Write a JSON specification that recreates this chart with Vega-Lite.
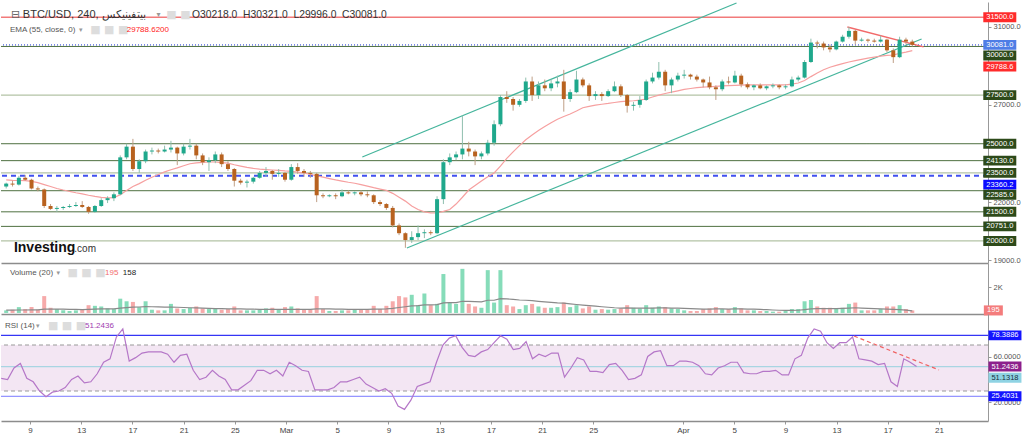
{
"$schema":"https://vega.github.io/schema/vega-lite/v6.json",
"background":"#ffffff",
"padding":{"left":0,"top":2,"right":0,"bottom":0},
"spacing":0,
"bounds":"flush",
"config":{"view":{"stroke":null},"font":"Liberation Sans","axis":{"labelFont":"Liberation Sans","labelFontSize":7.5,"labelColor":"#555555","tickColor":"#999999","domainColor":"#999999","grid":false,"tickSize":3,"labelPadding":2}},
"resolve":{"scale":{"x":"independent","y":"independent","color":"independent","stroke":"independent","strokeDash":"independent","strokeWidth":"independent"}},
"datasets":{
"k":[
{"t":"2023-02-06T18:00Z","o":22800,"h":23000,"l":22700,"c":22950,"v":200,"m":220,"r":41,"e":23140},
{"t":"2023-02-07T06:00Z","o":22950,"h":23100,"l":22800,"c":22900,"v":250,"m":220,"r":40,"e":23120},
{"t":"2023-02-07T18:00Z","o":22900,"h":23350,"l":22850,"c":23250,"v":450,"m":230,"r":50,"e":23110},
{"t":"2023-02-08T06:00Z","o":23250,"h":23400,"l":23100,"c":23150,"v":300,"m":230,"r":54,"e":23100},
{"t":"2023-02-08T18:00Z","o":23150,"h":23200,"l":22650,"c":22700,"v":450,"m":240,"r":41,"e":23060},
{"t":"2023-02-09T06:00Z","o":22700,"h":22800,"l":22550,"c":22650,"v":250,"m":240,"r":38,"e":23000},
{"t":"2023-02-09T18:00Z","o":22650,"h":22700,"l":21700,"c":21800,"v":1300,"m":290,"r":30,"e":22900},
{"t":"2023-02-10T06:00Z","o":21800,"h":21900,"l":21600,"c":21650,"v":400,"m":300,"r":25,"e":22800},
{"t":"2023-02-10T18:00Z","o":21650,"h":21800,"l":21500,"c":21700,"v":300,"m":300,"r":29,"e":22700},
{"t":"2023-02-11T06:00Z","o":21700,"h":21800,"l":21600,"c":21750,"v":200,"m":290,"r":30,"e":22620},
{"t":"2023-02-11T18:00Z","o":21750,"h":21900,"l":21700,"c":21800,"v":150,"m":280,"r":33,"e":22550},
{"t":"2023-02-12T06:00Z","o":21800,"h":22000,"l":21750,"c":21850,"v":200,"m":270,"r":40,"e":22480},
{"t":"2023-02-12T18:00Z","o":21850,"h":22050,"l":21700,"c":21750,"v":250,"m":260,"r":43,"e":22420},
{"t":"2023-02-13T06:00Z","o":21750,"h":21800,"l":21400,"c":21500,"v":600,"m":280,"r":37,"e":22350},
{"t":"2023-02-13T18:00Z","o":21500,"h":21850,"l":21450,"c":21800,"v":550,"m":300,"r":38,"e":22290},
{"t":"2023-02-14T06:00Z","o":21800,"h":22200,"l":21750,"c":22100,"v":500,"m":320,"r":45,"e":22240},
{"t":"2023-02-14T18:00Z","o":22100,"h":22300,"l":21950,"c":22200,"v":350,"m":320,"r":55,"e":22220},
{"t":"2023-02-15T06:00Z","o":22200,"h":22500,"l":22050,"c":22400,"v":300,"m":320,"r":58,"e":22230},
{"t":"2023-02-15T18:00Z","o":22400,"h":24400,"l":22350,"c":24300,"v":1100,"m":370,"r":77,"e":22380},
{"t":"2023-02-16T06:00Z","o":24300,"h":25000,"l":24200,"c":24850,"v":900,"m":410,"r":84,"e":22600},
{"t":"2023-02-16T18:00Z","o":24850,"h":25250,"l":23600,"c":23700,"v":850,"m":450,"r":56,"e":22800},
{"t":"2023-02-17T06:00Z","o":23700,"h":24200,"l":23500,"c":24100,"v":450,"m":460,"r":59,"e":22950},
{"t":"2023-02-17T18:00Z","o":24100,"h":24700,"l":24000,"c":24600,"v":900,"m":490,"r":63,"e":23120},
{"t":"2023-02-18T06:00Z","o":24600,"h":24800,"l":24450,"c":24650,"v":250,"m":480,"r":64,"e":23280},
{"t":"2023-02-18T18:00Z","o":24650,"h":24750,"l":24500,"c":24600,"v":200,"m":470,"r":64,"e":23420},
{"t":"2023-02-19T06:00Z","o":24600,"h":24900,"l":24550,"c":24700,"v":200,"m":450,"r":64,"e":23550},
{"t":"2023-02-19T18:00Z","o":24700,"h":25150,"l":24550,"c":24800,"v":700,"m":460,"r":62,"e":23660},
{"t":"2023-02-20T06:00Z","o":24800,"h":24850,"l":23900,"c":24500,"v":350,"m":440,"r":55,"e":23760},
{"t":"2023-02-20T18:00Z","o":24500,"h":25000,"l":24400,"c":24850,"v":300,"m":420,"r":61,"e":23870},
{"t":"2023-02-21T06:00Z","o":24850,"h":25250,"l":24700,"c":24900,"v":400,"m":400,"r":62,"e":23970},
{"t":"2023-02-21T18:00Z","o":24900,"h":25000,"l":24200,"c":24400,"v":500,"m":390,"r":48,"e":24020},
{"t":"2023-02-22T06:00Z","o":24400,"h":24500,"l":23900,"c":24050,"v":350,"m":370,"r":40,"e":24040},
{"t":"2023-02-22T18:00Z","o":24050,"h":24300,"l":23600,"c":24150,"v":300,"m":350,"r":42,"e":24060},
{"t":"2023-02-23T06:00Z","o":24150,"h":24600,"l":24000,"c":24450,"v":350,"m":340,"r":48,"e":24060},
{"t":"2023-02-23T18:00Z","o":24450,"h":24550,"l":23800,"c":23950,"v":250,"m":330,"r":43,"e":24030},
{"t":"2023-02-24T06:00Z","o":23950,"h":24100,"l":23600,"c":23700,"v":300,"m":320,"r":40,"e":24000},
{"t":"2023-02-24T18:00Z","o":23700,"h":23750,"l":22800,"c":23100,"v":500,"m":320,"r":31,"e":23920},
{"t":"2023-02-25T06:00Z","o":23100,"h":23200,"l":22900,"c":23000,"v":200,"m":310,"r":31,"e":23850},
{"t":"2023-02-25T18:00Z","o":23000,"h":23150,"l":22750,"c":23050,"v":200,"m":300,"r":35,"e":23780},
{"t":"2023-02-26T06:00Z","o":23050,"h":23300,"l":22950,"c":23250,"v":200,"m":290,"r":39,"e":23730},
{"t":"2023-02-26T18:00Z","o":23250,"h":23600,"l":23200,"c":23500,"v":250,"m":280,"r":48,"e":23690},
{"t":"2023-02-27T06:00Z","o":23500,"h":23800,"l":23300,"c":23600,"v":350,"m":280,"r":48,"e":23670},
{"t":"2023-02-27T18:00Z","o":23600,"h":23650,"l":23150,"c":23450,"v":400,"m":280,"r":45,"e":23650},
{"t":"2023-02-28T06:00Z","o":23450,"h":23700,"l":23300,"c":23500,"v":250,"m":270,"r":48,"e":23630},
{"t":"2023-02-28T18:00Z","o":23500,"h":23550,"l":23050,"c":23150,"v":450,"m":270,"r":43,"e":23600},
{"t":"2023-03-01T06:00Z","o":23150,"h":23950,"l":23100,"c":23800,"v":500,"m":280,"r":55,"e":23580},
{"t":"2023-03-01T18:00Z","o":23800,"h":24000,"l":23450,"c":23600,"v":350,"m":280,"r":52,"e":23540},
{"t":"2023-03-02T06:00Z","o":23600,"h":23700,"l":23300,"c":23500,"v":250,"m":280,"r":48,"e":23490},
{"t":"2023-03-02T18:00Z","o":23500,"h":23600,"l":23250,"c":23450,"v":250,"m":270,"r":47,"e":23430},
{"t":"2023-03-03T06:00Z","o":23450,"h":23500,"l":22000,"c":22350,"v":1300,"m":320,"r":31,"e":23350},
{"t":"2023-03-03T18:00Z","o":22350,"h":22450,"l":22200,"c":22300,"v":300,"m":320,"r":31,"e":23280},
{"t":"2023-03-04T06:00Z","o":22300,"h":22400,"l":22250,"c":22350,"v":150,"m":310,"r":31,"e":23210},
{"t":"2023-03-04T18:00Z","o":22350,"h":22450,"l":22150,"c":22300,"v":150,"m":300,"r":33,"e":23140},
{"t":"2023-03-05T06:00Z","o":22300,"h":22650,"l":22250,"c":22500,"v":200,"m":290,"r":38,"e":23080},
{"t":"2023-03-05T18:00Z","o":22500,"h":22600,"l":22400,"c":22450,"v":200,"m":280,"r":38,"e":23020},
{"t":"2023-03-06T06:00Z","o":22450,"h":22550,"l":22350,"c":22500,"v":250,"m":280,"r":40,"e":22970},
{"t":"2023-03-06T18:00Z","o":22500,"h":22600,"l":22300,"c":22400,"v":300,"m":280,"r":42,"e":22900},
{"t":"2023-03-07T06:00Z","o":22400,"h":22550,"l":22250,"c":22350,"v":250,"m":280,"r":36,"e":22820},
{"t":"2023-03-07T18:00Z","o":22350,"h":22400,"l":21900,"c":22000,"v":550,"m":300,"r":33,"e":22740},
{"t":"2023-03-08T06:00Z","o":22000,"h":22100,"l":21800,"c":21900,"v":300,"m":300,"r":30,"e":22670},
{"t":"2023-03-08T18:00Z","o":21900,"h":21950,"l":21600,"c":21700,"v":550,"m":310,"r":32,"e":22600},
{"t":"2023-03-09T06:00Z","o":21700,"h":21800,"l":20700,"c":20800,"v":900,"m":350,"r":28,"e":22450},
{"t":"2023-03-09T18:00Z","o":20800,"h":20900,"l":20300,"c":20400,"v":1300,"m":420,"r":17,"e":22250},
{"t":"2023-03-10T06:00Z","o":20400,"h":20450,"l":19650,"c":20050,"v":1200,"m":480,"r":14,"e":22050},
{"t":"2023-03-10T18:00Z","o":20050,"h":20500,"l":19900,"c":20200,"v":1400,"m":550,"r":22,"e":21800},
{"t":"2023-03-11T06:00Z","o":20200,"h":20800,"l":20050,"c":20400,"v":600,"m":560,"r":34,"e":21620},
{"t":"2023-03-11T18:00Z","o":20400,"h":20600,"l":20150,"c":20450,"v":1500,"m":620,"r":36,"e":21500},
{"t":"2023-03-12T06:00Z","o":20450,"h":20550,"l":20300,"c":20400,"v":600,"m":630,"r":38,"e":21450},
{"t":"2023-03-12T18:00Z","o":20400,"h":22300,"l":20350,"c":22150,"v":700,"m":640,"r":55,"e":21440},
{"t":"2023-03-13T06:00Z","o":22150,"h":24200,"l":21900,"c":24050,"v":3000,"m":780,"r":70,"e":21520},
{"t":"2023-03-13T18:00Z","o":24050,"h":24500,"l":23900,"c":24300,"v":800,"m":790,"r":76,"e":21620},
{"t":"2023-03-14T06:00Z","o":24300,"h":24600,"l":24150,"c":24450,"v":700,"m":790,"r":78,"e":21900},
{"t":"2023-03-14T18:00Z","o":24450,"h":26450,"l":24200,"c":24750,"v":3400,"m":900,"r":68,"e":22250},
{"t":"2023-03-15T06:00Z","o":24750,"h":25100,"l":24350,"c":24600,"v":700,"m":900,"r":61,"e":22620},
{"t":"2023-03-15T18:00Z","o":24600,"h":24700,"l":23900,"c":24350,"v":500,"m":880,"r":60,"e":22850},
{"t":"2023-03-16T06:00Z","o":24350,"h":24600,"l":24200,"c":24500,"v":400,"m":860,"r":64,"e":23080},
{"t":"2023-03-16T18:00Z","o":24500,"h":25200,"l":24400,"c":25050,"v":3300,"m":980,"r":66,"e":23300},
{"t":"2023-03-17T06:00Z","o":25050,"h":26200,"l":24900,"c":26000,"v":800,"m":980,"r":72,"e":23500},
{"t":"2023-03-17T18:00Z","o":26000,"h":27500,"l":25900,"c":27400,"v":3300,"m":1100,"r":78,"e":23850},
{"t":"2023-03-18T06:00Z","o":27400,"h":27700,"l":27100,"c":27300,"v":600,"m":1080,"r":75,"e":24250},
{"t":"2023-03-18T18:00Z","o":27300,"h":27400,"l":26700,"c":27000,"v":500,"m":1050,"r":66,"e":24580},
{"t":"2023-03-19T06:00Z","o":27000,"h":27300,"l":26900,"c":27200,"v":300,"m":1000,"r":67,"e":24900},
{"t":"2023-03-19T18:00Z","o":27200,"h":28400,"l":27100,"c":28200,"v":600,"m":980,"r":73,"e":25200},
{"t":"2023-03-20T06:00Z","o":28200,"h":28450,"l":27200,"c":27500,"v":700,"m":950,"r":58,"e":25450},
{"t":"2023-03-20T18:00Z","o":27500,"h":28200,"l":27300,"c":28000,"v":500,"m":900,"r":62,"e":25680},
{"t":"2023-03-21T06:00Z","o":28000,"h":28300,"l":27700,"c":27850,"v":400,"m":860,"r":60,"e":25880},
{"t":"2023-03-21T18:00Z","o":27850,"h":28300,"l":27700,"c":28100,"v":400,"m":820,"r":63,"e":26080},
{"t":"2023-03-22T06:00Z","o":28100,"h":28500,"l":27900,"c":28200,"v":450,"m":780,"r":63,"e":26260},
{"t":"2023-03-22T18:00Z","o":28200,"h":28800,"l":26650,"c":27300,"v":800,"m":760,"r":42,"e":26400},
{"t":"2023-03-23T06:00Z","o":27300,"h":27800,"l":27150,"c":27650,"v":450,"m":700,"r":50,"e":26530},
{"t":"2023-03-23T18:00Z","o":27650,"h":28750,"l":27600,"c":28300,"v":600,"m":650,"r":59,"e":26680},
{"t":"2023-03-24T06:00Z","o":28300,"h":28400,"l":27900,"c":28000,"v":350,"m":600,"r":57,"e":26850},
{"t":"2023-03-24T18:00Z","o":28000,"h":28100,"l":27200,"c":27450,"v":500,"m":560,"r":47,"e":26920},
{"t":"2023-03-25T06:00Z","o":27450,"h":27700,"l":27250,"c":27550,"v":250,"m":520,"r":47,"e":26980},
{"t":"2023-03-25T18:00Z","o":27550,"h":27650,"l":27200,"c":27450,"v":300,"m":480,"r":46,"e":27030},
{"t":"2023-03-26T06:00Z","o":27450,"h":27800,"l":27400,"c":27700,"v":250,"m":440,"r":53,"e":27070},
{"t":"2023-03-26T18:00Z","o":27700,"h":28200,"l":27650,"c":27950,"v":300,"m":400,"r":54,"e":27120},
{"t":"2023-03-27T06:00Z","o":27950,"h":28050,"l":27400,"c":27500,"v":350,"m":380,"r":48,"e":27160},
{"t":"2023-03-27T18:00Z","o":27500,"h":27550,"l":26600,"c":26950,"v":600,"m":390,"r":40,"e":27190},
{"t":"2023-03-28T06:00Z","o":26950,"h":27150,"l":26700,"c":27000,"v":400,"m":380,"r":41,"e":27210},
{"t":"2023-03-28T18:00Z","o":27000,"h":27450,"l":26850,"c":27250,"v":350,"m":370,"r":44,"e":27240},
{"t":"2023-03-29T06:00Z","o":27250,"h":28300,"l":27200,"c":28200,"v":600,"m":380,"r":60,"e":27300},
{"t":"2023-03-29T18:00Z","o":28200,"h":28650,"l":28100,"c":28400,"v":400,"m":380,"r":64,"e":27400},
{"t":"2023-03-30T06:00Z","o":28400,"h":29200,"l":28300,"c":28700,"v":500,"m":390,"r":65,"e":27500},
{"t":"2023-03-30T18:00Z","o":28700,"h":28800,"l":27700,"c":28000,"v":450,"m":390,"r":52,"e":27580},
{"t":"2023-03-31T06:00Z","o":28000,"h":28400,"l":27600,"c":28300,"v":350,"m":380,"r":52,"e":27650},
{"t":"2023-03-31T18:00Z","o":28300,"h":28650,"l":28200,"c":28500,"v":300,"m":370,"r":56,"e":27720},
{"t":"2023-04-01T06:00Z","o":28500,"h":28800,"l":28350,"c":28550,"v":200,"m":350,"r":56,"e":27790},
{"t":"2023-04-01T18:00Z","o":28550,"h":28600,"l":28300,"c":28450,"v":150,"m":330,"r":55,"e":27840},
{"t":"2023-04-02T06:00Z","o":28450,"h":28550,"l":28200,"c":28300,"v":150,"m":310,"r":52,"e":27880},
{"t":"2023-04-02T18:00Z","o":28300,"h":28350,"l":27900,"c":28150,"v":300,"m":300,"r":45,"e":27910},
{"t":"2023-04-03T06:00Z","o":28150,"h":28450,"l":27800,"c":27900,"v":350,"m":300,"r":44,"e":27930},
{"t":"2023-04-03T18:00Z","o":27900,"h":28000,"l":27250,"c":27800,"v":450,"m":310,"r":50,"e":27950},
{"t":"2023-04-04T06:00Z","o":27800,"h":28300,"l":27700,"c":28200,"v":300,"m":310,"r":52,"e":27970},
{"t":"2023-04-04T18:00Z","o":28200,"h":28450,"l":28050,"c":28150,"v":300,"m":300,"r":55,"e":27990},
{"t":"2023-04-05T06:00Z","o":28150,"h":28750,"l":28100,"c":28500,"v":450,"m":310,"r":55,"e":28000},
{"t":"2023-04-05T18:00Z","o":28500,"h":28600,"l":27900,"c":28050,"v":350,"m":310,"r":46,"e":28010},
{"t":"2023-04-06T06:00Z","o":28050,"h":28150,"l":27800,"c":27900,"v":200,"m":300,"r":45,"e":28020},
{"t":"2023-04-06T18:00Z","o":27900,"h":28050,"l":27750,"c":28000,"v":200,"m":290,"r":45,"e":28020},
{"t":"2023-04-07T06:00Z","o":28000,"h":28100,"l":27800,"c":27850,"v":150,"m":270,"r":47,"e":28020},
{"t":"2023-04-07T18:00Z","o":27850,"h":28000,"l":27750,"c":27950,"v":150,"m":250,"r":47,"e":28020},
{"t":"2023-04-08T06:00Z","o":27950,"h":28100,"l":27850,"c":28000,"v":100,"m":230,"r":48,"e":28020},
{"t":"2023-04-08T18:00Z","o":28000,"h":28050,"l":27800,"c":27900,"v":100,"m":210,"r":44,"e":28020},
{"t":"2023-04-09T06:00Z","o":27900,"h":28050,"l":27800,"c":27950,"v":150,"m":200,"r":44,"e":28030},
{"t":"2023-04-09T18:00Z","o":27950,"h":28450,"l":27900,"c":28300,"v":300,"m":200,"r":58,"e":28060},
{"t":"2023-04-10T06:00Z","o":28300,"h":28500,"l":28200,"c":28400,"v":300,"m":210,"r":61,"e":28120},
{"t":"2023-04-10T18:00Z","o":28400,"h":29300,"l":28350,"c":29200,"v":900,"m":260,"r":76,"e":28250},
{"t":"2023-04-11T06:00Z","o":29200,"h":30400,"l":29150,"c":30200,"v":1000,"m":310,"r":84,"e":28450},
{"t":"2023-04-11T18:00Z","o":30200,"h":30300,"l":29900,"c":30150,"v":500,"m":330,"r":82,"e":28640},
{"t":"2023-04-12T06:00Z","o":30150,"h":30250,"l":29800,"c":29950,"v":400,"m":340,"r":72,"e":28800},
{"t":"2023-04-12T18:00Z","o":29950,"h":30100,"l":29700,"c":29850,"v":400,"m":340,"r":67,"e":28930},
{"t":"2023-04-13T06:00Z","o":29850,"h":30300,"l":29800,"c":30250,"v":350,"m":340,"r":72,"e":29030},
{"t":"2023-04-13T18:00Z","o":30250,"h":30600,"l":30200,"c":30500,"v":400,"m":350,"r":72,"e":29120},
{"t":"2023-04-14T06:00Z","o":30500,"h":31000,"l":30400,"c":30800,"v":700,"m":370,"r":77,"e":29200},
{"t":"2023-04-14T18:00Z","o":30800,"h":30850,"l":30100,"c":30300,"v":800,"m":400,"r":58,"e":29270},
{"t":"2023-04-15T06:00Z","o":30300,"h":30450,"l":30250,"c":30350,"v":200,"m":380,"r":57,"e":29340},
{"t":"2023-04-15T18:00Z","o":30350,"h":30400,"l":30200,"c":30300,"v":200,"m":360,"r":56,"e":29400},
{"t":"2023-04-16T06:00Z","o":30300,"h":30400,"l":30200,"c":30250,"v":200,"m":330,"r":53,"e":29450},
{"t":"2023-04-16T18:00Z","o":30250,"h":30550,"l":30200,"c":30350,"v":300,"m":310,"r":54,"e":29500},
{"t":"2023-04-17T06:00Z","o":30350,"h":30400,"l":29700,"c":29800,"v":500,"m":300,"r":38,"e":29540},
{"t":"2023-04-17T18:00Z","o":29800,"h":29900,"l":29150,"c":29450,"v":500,"m":280,"r":34,"e":29560},
{"t":"2023-04-18T06:00Z","o":29450,"h":30500,"l":29400,"c":30350,"v":600,"m":260,"r":58,"e":29640},
{"t":"2023-04-18T18:00Z","o":30350,"h":30450,"l":30100,"c":30250,"v":300,"m":220,"r":55,"e":29710},
{"t":"2023-04-19T06:00Z","o":30250,"h":30350,"l":29996,"c":30081,"v":195,"m":158,"r":51.2436,"e":29788.6}
],
"lv":[
{"p":31500,"kind":"red"},{"p":30081,"kind":"cur"},{"p":30000,"kind":"dk"},{"p":27500,"kind":"lt"},{"p":25000,"kind":"dk"},{"p":24130,"kind":"dk"},{"p":23500,"kind":"lt"},{"p":23360.2,"kind":"ref"},{"p":22585,"kind":"dk"},{"p":21500,"kind":"dk"},{"p":20751,"kind":"dk"},{"p":20000,"kind":"lt"}
],
"pt":[
{"v":31500,"lab":"31500.0","kind":"red"},{"v":30081,"lab":"30081.0","kind":"cur"},{"v":27500,"lab":"27500.0","kind":"lvl"},{"v":25000,"lab":"25000.0","kind":"lvl"},{"v":24130,"lab":"24130.0","kind":"lvl"},{"v":23500,"lab":"23500.0","kind":"lvl"},{"v":21500,"lab":"21500.0","kind":"lvl"},{"v":20751,"lab":"20751.0","kind":"lvl"},{"v":20000,"lab":"20000.0","kind":"lvl"}
],
"rt":[
{"v":78.3886,"lab":"78.3886","kind":"b"},{"v":51.2436,"lab":"51.2436","kind":"p"},{"v":25.4031,"lab":"25.4031","kind":"b"}
],
"rl":[
{"r":78.3886,"kind":"hi"},{"r":70,"kind":"ob"},{"r":51.1318,"kind":"mid"},{"r":30,"kind":"os"},{"r":25.4031,"kind":"lo"}
]
},
"vconcat":[
{
"width":987,"height":261,
"layer":[
{"data":{"name":"lv"},"mark":{"type":"rule"},"encoding":{
"y":{"field":"p","type":"quantitative","scale":{"domain":[18869,32285],"nice":false,"zero":false},"axis":{"orient":"right","values":[19000,21000,22000,26000,27000,28000,31000,32000],"format":".1f","title":null}},
"stroke":{"field":"kind","type":"nominal","scale":{"domain":["dk","lt","red","cur","ref"],"range":["#4f7040","#b4c4a6","#f27a7a","#7b8be6","#4050f0"]},"legend":null},
"strokeWidth":{"field":"kind","type":"nominal","scale":{"domain":["dk","lt","red","cur","ref"],"range":[1,2,1,1,1]},"legend":null},
"strokeDash":{"field":"kind","type":"nominal","scale":{"domain":["dk","lt","red","cur","ref"],"range":[[1,0],[1,0],[1,0],[1,2],[5,4]]},"legend":null}}},
{"data":{"values":[{"t1":"2023-03-06T20:24Z","p1":24318,"t2":"2023-04-05T09:06Z","p2":32236},{"t1":"2023-03-10T08:50Z","p1":19640,"t2":"2023-04-19T23:35Z","p2":30385}],"format":{"parse":{"t1":"date","t2":"date"}}},
"mark":{"type":"rule","clip":true,"color":"#45b59c","strokeWidth":1.2},
"encoding":{"x":{"field":"t1","type":"temporal","scale":{"type":"utc","domain":[{"year":2023,"month":"feb","date":6,"hours":17,"minutes":38,"utc":true},{"year":2023,"month":"apr","date":24,"hours":19,"minutes":54,"utc":true}]},"axis":{"labels":false,"ticks":false,"domain":true,"grid":false,"title":null,"domainColor":"#8c8c8c","domainWidth":1.5}},"x2":{"field":"t2"},"y":{"field":"p1","type":"quantitative"},"y2":{"field":"p2"}}},
{"data":{"values":[{"t1":"2023-04-14T03:00Z","p1":31000,"t2":"2023-04-20T03:20Z","p2":29974}],"format":{"parse":{"t1":"date","t2":"date"}}},
"mark":{"type":"rule","clip":true,"color":"#f26a6a","strokeWidth":1.3},
"encoding":{"x":{"field":"t1","type":"temporal"},"x2":{"field":"t2"},"y":{"field":"p1","type":"quantitative"},"y2":{"field":"p2"}}},
{"data":{"name":"k"},"mark":{"type":"line","color":"#f6a0a0","strokeWidth":1.2,"clip":true},"encoding":{"x":{"field":"t","type":"temporal"},"y":{"field":"e","type":"quantitative"}}},
{"data":{"name":"k"},"mark":{"type":"rule","clip":true,"strokeWidth":1},"encoding":{"x":{"field":"t","type":"temporal"},"y":{"field":"l","type":"quantitative"},"y2":{"field":"h"},"color":{"condition":{"test":"datum.c >= datum.o","value":"#8fbfae"},"value":"#bf9f86"}}},
{"data":{"name":"k"},"mark":{"type":"bar","size":4,"clip":true},"encoding":{"x":{"field":"t","type":"temporal"},"y":{"field":"o","type":"quantitative"},"y2":{"field":"c"},"color":{"condition":{"test":"datum.c >= datum.o","value":"#1fa88c"},"value":"#b8621f"}}},
{"data":{"name":"pt"},"mark":{"type":"point","filled":true,"opacity":1,"shape":"M-1,-0.3H1V0.3H-1Z","size":1089},"encoding":{"x":{"datum":{"year":2023,"month":"apr","date":26,"hours":3,"minutes":42,"utc":true},"type":"temporal"},"y":{"field":"v","type":"quantitative"},"color":{"field":"kind","type":"nominal","scale":{"domain":["red","cur","lvl","ref"],"range":["#ff2b2b","#4f7de6","#2d4a1a","#0a0aff"]},"legend":null}}},
{"data":{"name":"pt"},"mark":{"type":"text","color":"#ffffff","fontSize":7.5,"align":"center","baseline":"middle"},"encoding":{"x":{"datum":{"year":2023,"month":"apr","date":26,"hours":3,"minutes":42,"utc":true},"type":"temporal"},"y":{"field":"v","type":"quantitative"},"text":{"field":"lab"}}},
{"data":{"values":[{"v":30000,"lab":"30000.0","kind":"lvl"},{"v":23360.2,"lab":"23360.2","kind":"ref"}]},"mark":{"type":"point","filled":true,"opacity":1,"shape":"M-1,-0.3H1V0.3H-1Z","size":1089,"yOffset":9},"encoding":{"x":{"datum":{"year":2023,"month":"apr","date":26,"hours":3,"minutes":42,"utc":true},"type":"temporal"},"y":{"field":"v","type":"quantitative"},"color":{"field":"kind","type":"nominal","legend":null}}},
{"data":{"values":[{"v":30000,"lab":"30000.0"},{"v":23360.2,"lab":"23360.2"}]},"mark":{"type":"text","color":"#ffffff","fontSize":7.5,"align":"center","baseline":"middle","yOffset":9},"encoding":{"x":{"datum":{"year":2023,"month":"apr","date":26,"hours":3,"minutes":42,"utc":true},"type":"temporal"},"y":{"field":"v","type":"quantitative"},"text":{"field":"lab"}}},
{"data":{"values":[{"v":29788.6,"lab":"29788.6","kind":"red"}]},"mark":{"type":"point","filled":true,"opacity":1,"shape":"M-1,-0.3H1V0.3H-1Z","size":1089,"yOffset":16},"encoding":{"x":{"datum":{"year":2023,"month":"apr","date":26,"hours":3,"minutes":42,"utc":true},"type":"temporal"},"y":{"field":"v","type":"quantitative"},"color":{"field":"kind","type":"nominal","legend":null}}},
{"data":{"values":[{"v":29788.6,"lab":"29788.6"}]},"mark":{"type":"text","color":"#ffffff","fontSize":7.5,"align":"center","baseline":"middle","yOffset":16},"encoding":{"x":{"datum":{"year":2023,"month":"apr","date":26,"hours":3,"minutes":42,"utc":true},"type":"temporal"},"y":{"field":"v","type":"quantitative"},"text":{"field":"lab"}}},
{"data":{"values":[{"v":22585,"lab":"22585.0","kind":"lvl"}]},"mark":{"type":"point","filled":true,"opacity":1,"shape":"M-1,-0.3H1V0.3H-1Z","size":1089,"yOffset":4},"encoding":{"x":{"datum":{"year":2023,"month":"apr","date":26,"hours":3,"minutes":42,"utc":true},"type":"temporal"},"y":{"field":"v","type":"quantitative"},"color":{"field":"kind","type":"nominal","legend":null}}},
{"data":{"values":[{"v":22585,"lab":"22585.0"}]},"mark":{"type":"text","color":"#ffffff","fontSize":7.5,"align":"center","baseline":"middle","yOffset":4},"encoding":{"x":{"datum":{"year":2023,"month":"apr","date":26,"hours":3,"minutes":42,"utc":true},"type":"temporal"},"y":{"field":"v","type":"quantitative"},"text":{"field":"lab"}}},
{"data":{"values":[{}]},"mark":{"type":"text","text":"⊟","align":"left","baseline":"middle","fontSize":11,"color":"#666666","font":"DejaVu Sans"},"encoding":{"x":{"datum":{"year":2023,"month":"feb","date":7,"hours":3,"utc":true},"type":"temporal"},"y":{"datum":31619,"type":"quantitative"}}},
{"data":{"values":[{}]},"mark":{"type":"text","text":"BTC/USD, 240, بيتفينيكس","align":"left","baseline":"middle","fontSize":11,"color":"#333333"},"encoding":{"x":{"datum":{"year":2023,"month":"feb","date":8,"hours":1,"minutes":30,"utc":true},"type":"temporal"},"y":{"datum":31619,"type":"quantitative"}}},
{"data":{"values":[{}]},"mark":{"type":"text","text":"▾","align":"left","baseline":"middle","fontSize":8,"color":"#999999","font":"DejaVu Sans"},"encoding":{"x":{"datum":{"year":2023,"month":"feb","date":18,"hours":14,"minutes":36,"utc":true},"type":"temporal"},"y":{"datum":31619,"type":"quantitative"}}},
{"data":{"values":[{}]},"mark":{"type":"text","text":"■ ■","align":"left","baseline":"middle","fontSize":11,"color":"#dddddd","font":"DejaVu Sans"},"encoding":{"x":{"datum":{"year":2023,"month":"feb","date":19,"hours":9,"minutes":18,"utc":true},"type":"temporal"},"y":{"datum":31619,"type":"quantitative"}}},
{"data":{"values":[{}]},"mark":{"type":"text","text":"O30218.0\u00a0\u00a0H30321.0\u00a0\u00a0L29996.0\u00a0\u00a0C30081.0","align":"left","baseline":"middle","fontSize":10.3,"color":"#333333"},"encoding":{"x":{"datum":{"year":2023,"month":"feb","date":21,"hours":10,"minutes":6,"utc":true},"type":"temporal"},"y":{"datum":31619,"type":"quantitative"}}},
{"data":{"values":[{}]},"mark":{"type":"text","text":"EMA (55, close, 0)","align":"left","baseline":"middle","fontSize":8,"color":"#555555"},"encoding":{"x":{"datum":{"year":2023,"month":"feb","date":7,"hours":1,"minutes":6,"utc":true},"type":"temporal"},"y":{"datum":30848,"type":"quantitative"}}},
{"data":{"values":[{}]},"mark":{"type":"text","text":"▾","align":"left","baseline":"middle","fontSize":7,"color":"#999999","font":"DejaVu Sans"},"encoding":{"x":{"datum":{"year":2023,"month":"feb","date":12,"hours":12,"utc":true},"type":"temporal"},"y":{"datum":30848,"type":"quantitative"}}},
{"data":{"values":[{}]},"mark":{"type":"text","text":"■ ■ ■","align":"left","baseline":"middle","fontSize":11,"color":"#dddddd","font":"DejaVu Sans"},"encoding":{"x":{"datum":{"year":2023,"month":"feb","date":13,"hours":9,"utc":true},"type":"temporal"},"y":{"datum":30848,"type":"quantitative"}}},
{"data":{"values":[{}]},"mark":{"type":"text","text":"29788.6200","align":"left","baseline":"middle","fontSize":8,"color":"#ff2222"},"encoding":{"x":{"datum":{"year":2023,"month":"feb","date":16,"hours":6,"minutes":18,"utc":true},"type":"temporal"},"y":{"datum":30848,"type":"quantitative"}}},
{"data":{"values":[{}]},"mark":{"type":"text","text":"Investing","align":"left","baseline":"middle","fontSize":14,"fontWeight":"bold","color":"#111111"},"encoding":{"x":{"datum":{"year":2023,"month":"feb","date":7,"hours":8,"minutes":36,"utc":true},"type":"temporal"},"y":{"datum":19640,"type":"quantitative"}}},
{"data":{"values":[{}]},"mark":{"type":"text","text":".com","align":"left","baseline":"middle","fontSize":10,"color":"#333333"},"encoding":{"x":{"datum":{"year":2023,"month":"feb","date":12,"hours":3,"utc":true},"type":"temporal"},"y":{"datum":19610,"type":"quantitative"}}}
]
},
{
"width":987,"height":51,
"layer":[
{"data":{"name":"k"},"mark":{"type":"bar","size":4,"clip":true},"encoding":{"x":{"field":"t","type":"temporal","scale":{"type":"utc","domain":[{"year":2023,"month":"feb","date":6,"hours":17,"minutes":38,"utc":true},{"year":2023,"month":"apr","date":24,"hours":19,"minutes":54,"utc":true}]},"axis":{"labels":false,"ticks":false,"domain":true,"grid":false,"title":null,"domainColor":"#8c8c8c","domainWidth":1.5}},"y":{"field":"v","type":"quantitative","scale":{"domain":[-80,3850],"nice":false,"zero":false},"axis":{"orient":"right","values":[2000],"labelExpr":"'2K'","title":null}},"y2":{"datum":0},"color":{"condition":{"test":"datum.c >= datum.o","value":"#86dcb9"},"value":"#f6aaaa"}}},
{"data":{"name":"k"},"mark":{"type":"line","color":"#8a8a8a","strokeWidth":1.2},"encoding":{"x":{"field":"t","type":"temporal"},"y":{"field":"m","type":"quantitative"}}},
{"data":{"values":[{"v":195,"lab":"195"}]},"mark":{"type":"point","filled":true,"opacity":1,"shape":"M-1,-0.53H1V0.53H-1Z","size":361,"color":"#f47c7c"},"encoding":{"x":{"datum":{"year":2023,"month":"apr","date":25,"hours":15,"minutes":30,"utc":true},"type":"temporal"},"y":{"field":"v","type":"quantitative"}}},
{"data":{"values":[{"v":195,"lab":"195"}]},"mark":{"type":"text","color":"#ffffff","fontSize":7.5,"align":"center","baseline":"middle"},"encoding":{"x":{"datum":{"year":2023,"month":"apr","date":25,"hours":15,"minutes":30,"utc":true},"type":"temporal"},"y":{"field":"v","type":"quantitative"},"text":{"field":"lab"}}},
{"data":{"values":[{}]},"mark":{"type":"text","text":"Volume (20)","align":"left","baseline":"middle","fontSize":8,"color":"#555555"},"encoding":{"x":{"datum":{"year":2023,"month":"feb","date":7,"hours":1,"minutes":6,"utc":true},"type":"temporal"},"y":{"datum":3077,"type":"quantitative"}}},
{"data":{"values":[{}]},"mark":{"type":"text","text":"▾","align":"left","baseline":"middle","fontSize":7,"color":"#999999","font":"DejaVu Sans"},"encoding":{"x":{"datum":{"year":2023,"month":"feb","date":10,"hours":17,"minutes":12,"utc":true},"type":"temporal"},"y":{"datum":3077,"type":"quantitative"}}},
{"data":{"values":[{}]},"mark":{"type":"text","text":"■ ■ ■","align":"left","baseline":"middle","fontSize":11,"color":"#dddddd","font":"DejaVu Sans"},"encoding":{"x":{"datum":{"year":2023,"month":"feb","date":11,"hours":13,"minutes":54,"utc":true},"type":"temporal"},"y":{"datum":3077,"type":"quantitative"}}},
{"data":{"values":[{}]},"mark":{"type":"text","text":"195","align":"left","baseline":"middle","fontSize":8,"color":"#f26d6d"},"encoding":{"x":{"datum":{"year":2023,"month":"feb","date":14,"hours":13,"minutes":6,"utc":true},"type":"temporal"},"y":{"datum":3077,"type":"quantitative"}}},
{"data":{"values":[{}]},"mark":{"type":"text","text":"158","align":"left","baseline":"middle","fontSize":8,"color":"#222222"},"encoding":{"x":{"datum":{"year":2023,"month":"feb","date":15,"hours":22,"minutes":48,"utc":true},"type":"temporal"},"y":{"datum":3077,"type":"quantitative"}}}
]
},
{
"width":987,"height":107,
"layer":[
{"data":{"values":[{}]},"mark":{"type":"rect","color":"#f3e6f3"},"encoding":{
"x":{"datum":{"year":2023,"month":"feb","date":6,"hours":17,"minutes":38,"utc":true},"type":"temporal","scale":{"type":"utc","domain":[{"year":2023,"month":"feb","date":6,"hours":17,"minutes":38,"utc":true},{"year":2023,"month":"apr","date":24,"hours":19,"minutes":54,"utc":true}]},"axis":{"orient":"bottom","title":null,"grid":false,"tickSize":3,"labelFontSize":8,"labelColor":"#444444","labelPadding":2,"domainColor":"#8c8c8c","domainWidth":1.5,"labelFlush":false,"labelOverlap":false,
"values":[{"year":2023,"month":"feb","date":9,"utc":true},{"year":2023,"month":"feb","date":13,"utc":true},{"year":2023,"month":"feb","date":17,"utc":true},{"year":2023,"month":"feb","date":21,"utc":true},{"year":2023,"month":"feb","date":25,"utc":true},{"year":2023,"month":"mar","date":1,"utc":true},{"year":2023,"month":"mar","date":5,"utc":true},{"year":2023,"month":"mar","date":9,"utc":true},{"year":2023,"month":"mar","date":13,"utc":true},{"year":2023,"month":"mar","date":17,"utc":true},{"year":2023,"month":"mar","date":21,"utc":true},{"year":2023,"month":"mar","date":25,"utc":true},{"year":2023,"month":"apr","date":1,"utc":true},{"year":2023,"month":"apr","date":5,"utc":true},{"year":2023,"month":"apr","date":9,"utc":true},{"year":2023,"month":"apr","date":13,"utc":true},{"year":2023,"month":"apr","date":17,"utc":true},{"year":2023,"month":"apr","date":21,"utc":true}],
"labelExpr":"utcdate(datum.value) == 1 ? utcFormat(datum.value, '%b') : utcFormat(datum.value, '%-d')"}},
"x2":{"datum":{"year":2023,"month":"apr","date":24,"hours":19,"minutes":54,"utc":true}},
"y":{"datum":30,"type":"quantitative","scale":{"domain":[3.91,96.96],"nice":false,"zero":false},"axis":{"orient":"right","values":[20,60],"format":".4f","title":null}},
"y2":{"datum":70}}},
{"data":{"name":"rl"},"mark":{"type":"rule"},"encoding":{"y":{"field":"r","type":"quantitative"},
"stroke":{"field":"kind","type":"nominal","scale":{"domain":["hi","ob","mid","os","lo"],"range":["#3535f5","#9a9a9a","#a8d5e2","#9a9a9a","#7a7aff"]},"legend":null},
"strokeDash":{"field":"kind","type":"nominal","scale":{"domain":["hi","ob","mid","os","lo"],"range":[[1,0],[4,3],[1,0],[4,3],[1,0]]},"legend":null},
"strokeWidth":{"field":"kind","type":"nominal","scale":{"domain":["hi","ob","mid","os","lo"],"range":[1.3,1,1.5,1,2]},"legend":null}}},
{"data":{"name":"k"},"mark":{"type":"line","color":"#b577c8","strokeWidth":1.2,"clip":true},"encoding":{"x":{"field":"t","type":"temporal"},"y":{"field":"r","type":"quantitative"}}},
{"data":{"values":[{"t1":"2023-04-14T08:40Z","r1":77.8,"t2":"2023-04-21T00:00Z","r2":48.3}],"format":{"parse":{"t1":"date","t2":"date"}}},"mark":{"type":"rule","color":"#f06262","strokeDash":[4,3],"strokeWidth":1.2},"encoding":{"x":{"field":"t1","type":"temporal"},"x2":{"field":"t2"},"y":{"field":"r1","type":"quantitative"},"y2":{"field":"r2"}}},
{"data":{"name":"rt"},"mark":{"type":"point","filled":true,"opacity":1,"shape":"M-1,-0.3H1V0.3H-1Z","size":1089},"encoding":{"x":{"datum":{"year":2023,"month":"apr","date":26,"hours":3,"minutes":42,"utc":true},"type":"temporal"},"y":{"field":"v","type":"quantitative"},"color":{"field":"kind","type":"nominal","scale":{"domain":["b","p"],"range":["#1414ff","#8c1f8c"]},"legend":null}}},
{"data":{"name":"rt"},"mark":{"type":"text","color":"#ffffff","fontSize":7.5,"align":"center","baseline":"middle"},"encoding":{"x":{"datum":{"year":2023,"month":"apr","date":26,"hours":3,"minutes":42,"utc":true},"type":"temporal"},"y":{"field":"v","type":"quantitative"},"text":{"field":"lab"}}},
{"data":{"values":[{"v":51.1318,"lab":"51.1318"}]},"mark":{"type":"point","filled":true,"opacity":1,"shape":"M-1,-0.3H1V0.3H-1Z","size":1089,"color":"#8fd3e3","yOffset":11},"encoding":{"x":{"datum":{"year":2023,"month":"apr","date":26,"hours":3,"minutes":42,"utc":true},"type":"temporal"},"y":{"field":"v","type":"quantitative"}}},
{"data":{"values":[{"v":51.1318,"lab":"51.1318"}]},"mark":{"type":"text","color":"#173040","fontSize":7.5,"align":"center","baseline":"middle","yOffset":11},"encoding":{"x":{"datum":{"year":2023,"month":"apr","date":26,"hours":3,"minutes":42,"utc":true},"type":"temporal"},"y":{"field":"v","type":"quantitative"},"text":{"field":"lab"}}},
{"data":{"values":[{}]},"mark":{"type":"text","text":"RSI (14)","align":"left","baseline":"middle","fontSize":8,"color":"#555555"},"encoding":{"x":{"datum":{"year":2023,"month":"feb","date":7,"hours":1,"minutes":6,"utc":true},"type":"temporal"},"y":{"datum":86.5,"type":"quantitative"}}},
{"data":{"values":[{}]},"mark":{"type":"text","text":"▾","align":"left","baseline":"middle","fontSize":7,"color":"#999999","font":"DejaVu Sans"},"encoding":{"x":{"datum":{"year":2023,"month":"feb","date":9,"hours":11,"minutes":15,"utc":true},"type":"temporal"},"y":{"datum":86.5,"type":"quantitative"}}},
{"data":{"values":[{}]},"mark":{"type":"text","text":"■ ■ ■","align":"left","baseline":"middle","fontSize":11,"color":"#dddddd","font":"DejaVu Sans"},"encoding":{"x":{"datum":{"year":2023,"month":"feb","date":10,"hours":9,"minutes":42,"utc":true},"type":"temporal"},"y":{"datum":86.5,"type":"quantitative"}}},
{"data":{"values":[{}]},"mark":{"type":"text","text":"51.2436","align":"left","baseline":"middle","fontSize":8,"color":"#a03cb0"},"encoding":{"x":{"datum":{"year":2023,"month":"feb","date":13,"hours":7,"minutes":6,"utc":true},"type":"temporal"},"y":{"datum":86.5,"type":"quantitative"}}}
]
}
]
}
